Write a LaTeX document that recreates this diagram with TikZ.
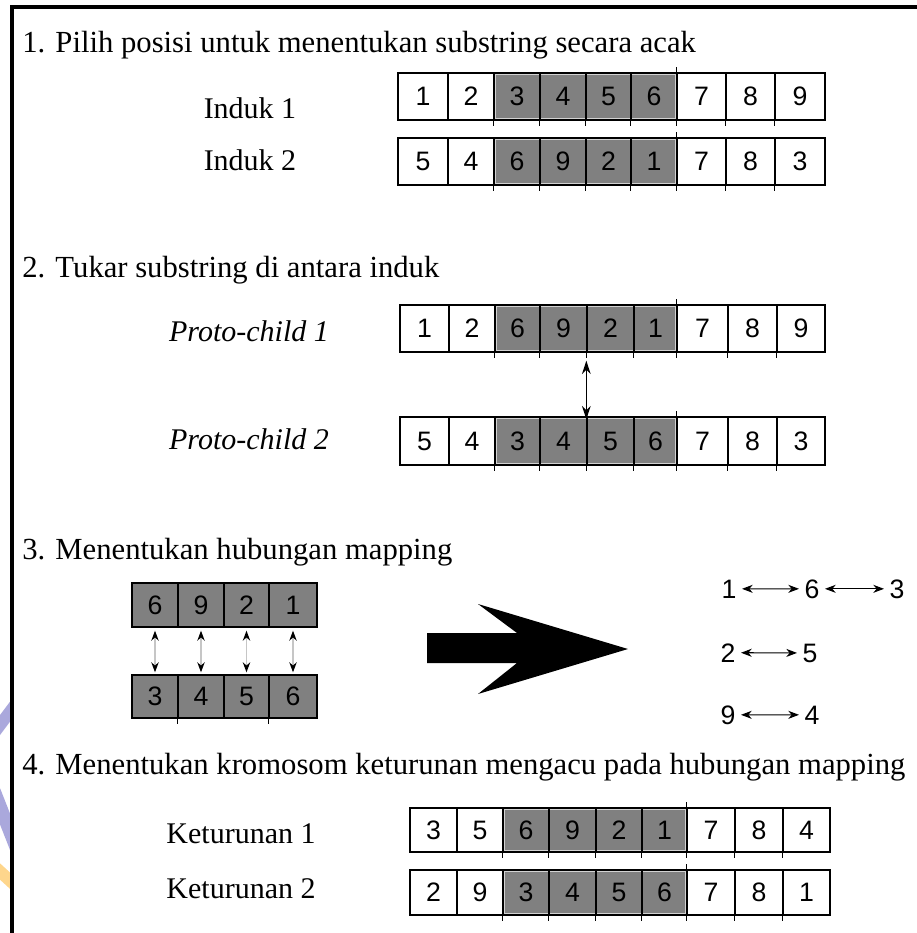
\documentclass[tikz,border=0pt]{standalone}
\usepackage{fontspec}
\setmainfont{Liberation Serif}
\setsansfont{Liberation Sans}
\usetikzlibrary{arrows.meta,backgrounds}

\definecolor{wmpurple}{RGB}{170,168,220}
\definecolor{wmorange}{RGB}{254,214,140}

\tikzset{
  cellbox/.style={draw=black, line width=1pt, inner sep=0pt,
    font=\sffamily\fontsize{20}{24}\selectfont},
  greyblock/.style={fill=gray, draw=gray!35, line width=0.8pt},
  celltick/.style={line width=0.9pt},
  heading/.style={anchor=base west, inner sep=0pt,
    font=\fontsize{23}{27}\selectfont},
  rowlabel/.style={anchor=base, inner sep=0pt,
    font=\fontsize{22.5}{27}\selectfont},
  mapnum/.style={anchor=base, inner ysep=0pt, inner xsep=4pt,
    font=\sffamily\fontsize{20}{24}\selectfont},
  maparrow/.style={line width=0.8pt,
    {Stealth[length=8pt,width=6pt,inset=2.5pt]}-{Stealth[length=8pt,width=6pt,inset=2.5pt]}},
  swaparrow/.style={line width=1.1pt,
    {Stealth[length=10pt,width=6.5pt]}-{Stealth[length=10pt,width=6.5pt]}},
  pairarrow/.style={draw=gray!45, line width=1.4pt,
    {Stealth[black,length=7.5pt,width=5.5pt]}-{Stealth[black,length=7.5pt,width=5.5pt]}},
}

% one chromosome row: name, bounds array, top, bottom, genes
\newcommand\chromrow[5]{%
  \foreach \g [count=\i from 0] in {#5} {
    \pgfmathsetmacro\xl{#2[\i]}
    \pgfmathsetmacro\xr{#2[\i+1]}
    \node[cellbox, minimum width={(\xr-\xl)*0.75pt},
          minimum height={(#4-#3)*0.75pt}]
      (#1-\i) at ({(\xl+\xr)/2},{(#3+#4)/2}) {\g};
  }%
}
% short overhanging ticks under the cell borders
\newcommand\rowticks[1]{%
  \foreach \k in {2,...,8} \draw[celltick] (#1-\k.south west) -- ++(0,5);
  \draw[celltick] (#1-6.north west) -- ++(0,-5);
}
% shaded middle substring (cells 3 to 6)
\newcommand\greysub[1]{%
  \fill[greyblock] ([shift={(2,2)}]#1-2.north west) rectangle ([shift={(-2,-2)}]#1-5.south east);
}

\def\bndA{{398,448,494,540,586,631,677,726,775,825}}
\def\bndP{{400,449,495,540,587,634,677,728,777,825}}
\def\bndK{{410,457,503,549,596,642,687,735,783,830}}
\def\bndM{{132,178,224,269,317}}

\begin{document}
\begin{tikzpicture}[x=0.75pt,y=-0.75pt]
\useasboundingbox (0,0) rectangle (917,933);
\begin{pgfonlayer}{background}
  \fill[white] (0,0) rectangle (917,933);
\end{pgfonlayer}

% logo fragments showing at the left margin
\begin{scope}
  \clip (0,680) rectangle (10.5,910);
  \draw[wmpurple, line width=9pt] (-6,733) -- (18,701);
  \draw[wmpurple, line width=10pt] (-6,791) -- (18,852);
  \draw[wmorange, line width=9pt] (-6,866) -- (18,888);
\end{scope}

% page frame
\draw[line width=2.6pt] (920,7) -- (12,7) -- (12,940);

% ---- step 1
\node[heading] (h1) at (22,52) {1. Pilih posisi untuk menentukan substring secara acak};
\node[rowlabel] (lbI1) at (250,118) {Induk 1};
\node[rowlabel] (lbI2) at (250,170) {Induk 2};
\chromrow{ra}{\bndA}{73}{120}{1,2,3,4,5,6,7,8,9}
\chromrow{rb}{\bndA}{138}{185}{5,4,6,9,2,1,7,8,3}
\rowticks{ra}
\rowticks{rb}

% ---- step 2
\node[heading] (h2) at (22,277) {2. Tukar substring di antara induk};
\node[rowlabel, font=\fontsize{22.5}{27}\selectfont\itshape] (lbP1) at (249,341) {Proto-child 1};
\node[rowlabel, font=\fontsize{22.5}{27}\selectfont\itshape] (lbP2) at (249,449) {Proto-child 2};
\chromrow{pa}{\bndP}{305}{352}{1,2,6,9,2,1,7,8,9}
\chromrow{pb}{\bndP}{417}{465}{5,4,3,4,5,6,7,8,3}
\rowticks{pa}
\rowticks{pb}
\draw[swaparrow] ([shift={(0,8)}]pa-4.south west) -- ([shift={(0,3)}]pb-4.north west);

% ---- step 3
\node[heading] (h3) at (22,559) {3. Menentukan hubungan mapping};
\chromrow{ma}{\bndM}{583}{627}{6,9,2,1}
\chromrow{mb}{\bndM}{675}{718}{3,4,5,6}
\foreach \k in {1,3} \draw[celltick] (mb-\k.south west) -- ++(0,5);
\foreach \k in {0,...,3}
  \draw[pairarrow] ([shift={(0,3)}]ma-\k.south) -- ([shift={(0,-2)}]mb-\k.north);

% big block arrow
\fill[black] (427,633) -- (517,633) -- (478,604) -- (628,649)
  -- (478,694) -- (517,663) -- (427,663) -- cycle;

\node[mapnum] (n1) at (729,598) {1};
\node[mapnum] (n6) at (812,598) {6};
\node[mapnum] (n3) at (897,598) {3};
\node[mapnum] (n2) at (728,662) {2};
\node[mapnum] (n5) at (810,662) {5};
\node[mapnum] (n9) at (728,724) {9};
\node[mapnum] (n4) at (812,724) {4};
\draw[maparrow] (n1) -- (n6);
\draw[maparrow] (n6) -- (n3);
\draw[maparrow] (n2) -- (n5);
\draw[maparrow] (n9) -- (n4);

% ---- step 4
\node[heading] (h4) at (22,774) {4. Menentukan kromosom keturunan mengacu pada hubungan mapping};
\node[rowlabel] (lbK1) at (241,843) {Keturunan 1};
\node[rowlabel] (lbK2) at (241,898) {Keturunan 2};
\chromrow{ka}{\bndK}{808}{852}{3,5,6,9,2,1,7,8,4}
\chromrow{kb}{\bndK}{870}{915}{2,9,3,4,5,6,7,8,1}
\rowticks{ka}
\rowticks{kb}

% grey substrings, kept behind the cell borders
\begin{pgfonlayer}{background}
  \greysub{ra}\greysub{rb}\greysub{pa}\greysub{pb}\greysub{ka}\greysub{kb}
  \fill[gray] (ma-0.north west) rectangle (ma-3.south east);
  \fill[gray] (mb-0.north west) rectangle (mb-3.south east);
\end{pgfonlayer}
\end{tikzpicture}
\end{document}
